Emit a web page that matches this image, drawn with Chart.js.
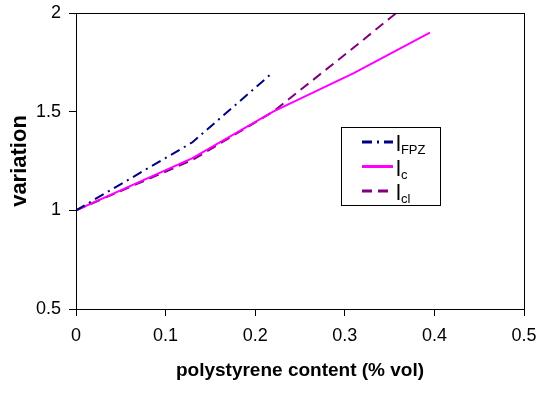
<!DOCTYPE html>
<html>
<head>
<meta charset="utf-8">
<script src="https://cdn.jsdelivr.net/npm/chart.js@4.4.1/dist/chart.umd.min.js"></script>
<style>
  html, body { margin: 0; padding: 0; background: #fff; }
  #wrap { width: 540px; height: 394px; }
</style>
</head>
<body>
<div id="wrap"><canvas id="chart"></canvas></div>
<script>
// values
const fpzX = [0, 0.13, 0.22];
const fpzY = [1, 1.345, 1.70];
const cX = [0, 0.13, 0.22, 0.31, 0.395];
const cY = [1, 1.265, 1.5, 1.695, 1.9];
const clX = [0, 0.13, 0.22, 0.31, 0.362];
const clY = [1, 1.255, 1.5, 1.825, 2.017];
const legendNames = [['l', 'FPZ'], ['l', 'c'], ['l', 'cl']];

const FONT = "'Liberation Sans', Arial, sans-serif";

const pts = (xs, ys) => xs.map((x, i) => ({ x: x, y: ys[i] }));
const fmt = v => String(+v.toFixed(1));

// box around plot + legend inside the plot area
const boxLegend = {
  id: 'boxLegend',
  afterDraw(chart) {
    const ctx = chart.ctx;
    const a = chart.chartArea;
    ctx.save();
    ctx.strokeStyle = '#000';
    ctx.lineWidth = 1;
    ctx.strokeRect(Math.round(a.left) + 0.5, Math.round(a.top) + 0.5,
      Math.round(a.right - a.left), Math.round(a.bottom - a.top));

    const bx = 341, by = 127, bw = 99, bh = 78;
    ctx.fillStyle = '#fff';
    ctx.fillRect(bx, by, bw, bh);
    ctx.strokeRect(bx + 0.5, by + 0.5, bw, bh);

    chart.data.datasets.forEach((ds, i) => {
      const y = 142 + i * 24.5;
      ctx.beginPath();
      ctx.strokeStyle = ds.borderColor;
      ctx.lineWidth = 3;
      ctx.setLineDash(ds.borderDash || []);
      ctx.moveTo(362, y);
      ctx.lineTo(393, y);
      ctx.stroke();
      ctx.setLineDash([]);
      ctx.fillStyle = '#000';
      ctx.textBaseline = 'alphabetic';
      ctx.font = '22px ' + FONT;
      ctx.fillText(legendNames[i][0], 396, y + 9);
      const w = ctx.measureText(legendNames[i][0]).width;
      ctx.font = '13px ' + FONT;
      ctx.fillText(legendNames[i][1], 396 + w, y + 12);
    });
    ctx.restore();
  }
};

new Chart(document.getElementById('chart'), {
  type: 'scatter',
  data: {
    datasets: [{
      label: 'lFPZ',
      data: pts(fpzX, fpzY),
      showLine: true,
      borderColor: '#000080',
      borderWidth: 2,
      borderDash: [10, 5, 2, 5],
      pointRadius: 0,
      fill: false
    }, {
      label: 'lc',
      data: pts(cX, cY),
      showLine: true,
      borderColor: '#ff00ff',
      borderWidth: 2,
      pointRadius: 0,
      fill: false
    }, {
      label: 'lcl',
      data: pts(clX, clY),
      showLine: true,
      borderColor: '#800080',
      borderWidth: 2,
      borderDash: [10, 6],
      pointRadius: 0,
      fill: false,
      clip: false
    }]
  },
  options: {
    responsive: true,
    maintainAspectRatio: false,
    animation: false,
    layout: { padding: { top: 13, right: 16, left: 0, bottom: 0 } },
    plugins: { legend: { display: false }, tooltip: { enabled: false } },
    scales: {
      x: {
        type: 'linear',
        min: 0,
        max: 0.5,
        afterFit: s => { s.height = 85; s.paddingLeft = 0; s.paddingRight = 0; },
        border: { color: '#000', width: 1 },
        grid: { drawOnChartArea: false, tickLength: 7, color: '#000' },
        ticks: { stepSize: 0.1, padding: 9, color: '#000', font: { family: FONT, size: 18 }, callback: fmt },
        title: {
          display: true,
          text: 'polystyrene content (% vol)',
          color: '#000',
          font: { family: FONT, size: 19, weight: 'bold' },
          padding: { top: 0, bottom: 12 }
        }
      },
      y: {
        type: 'linear',
        min: 0.5,
        max: 2,
        afterFit: s => { s.width = 76; s.paddingTop = 0; s.paddingBottom = 0; },
        border: { color: '#000', width: 1 },
        grid: { drawOnChartArea: false, tickLength: 7, color: '#000' },
        ticks: { stepSize: 0.5, padding: 8, color: '#000', font: { family: FONT, size: 18 }, callback: fmt },
        title: {
          display: true,
          text: 'variation',
          color: '#000',
          font: { family: FONT, size: 22, weight: 'bold' },
          padding: { top: 7 }
        }
      }
    }
  },
  plugins: [boxLegend]
});
</script>
</body>
</html>
